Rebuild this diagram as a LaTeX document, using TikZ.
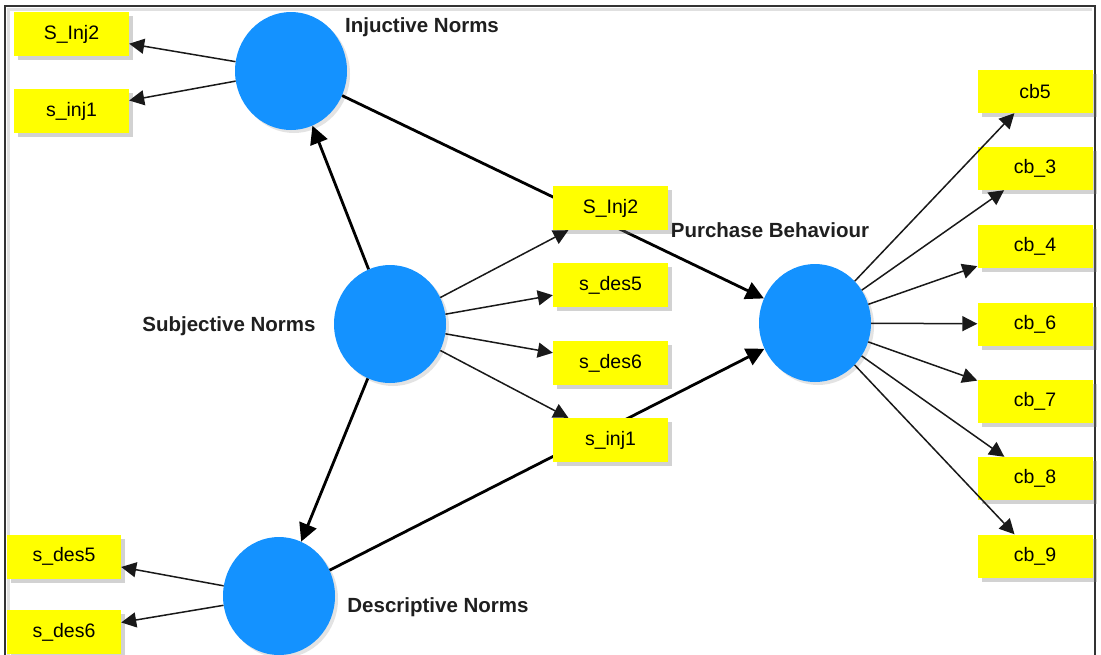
\documentclass[tikz,border=0pt]{standalone}
\usepackage{fontspec}
\setmainfont{Liberation Sans}
\usetikzlibrary{arrows.meta,shapes.geometric,shadows}
\definecolor{lvblue}{RGB}{20,146,255}
\definecolor{indyellow}{RGB}{255,255,0}
\begin{document}
\begin{tikzpicture}[x=1pt,y=-1pt,
  latent/.style={ellipse, fill=lvblue, minimum width=112pt, minimum height=118pt, inner sep=0pt,
    drop shadow={shadow xshift=3pt, shadow yshift=-3pt, opacity=0.22}},
  indbox/.style={rectangle, fill=indyellow, minimum width=115pt, minimum height=44pt, inner sep=0pt,
    font=\fontsize{19.5}{22}\selectfont,
    drop shadow={shadow xshift=4pt, shadow yshift=-4pt, opacity=0.35}},
  lvlabel/.style={font=\fontsize{20.5}{24}\selectfont\bfseries, text=black!88},
  thinarrow/.style={draw=black!90, line width=1.5pt, -{Triangle[length=15pt,width=15pt]}},
  thickarrow/.style={draw=black, line width=2.8pt, -{Triangle[length=18pt,width=18pt]}},
]
\useasboundingbox (0,0) rectangle (1101,654);
\clip (0,0) rectangle (1101,654);
\fill[white] (0,0) rectangle (1101,654);
% frame
\draw[black!12, line width=3pt] (8.5,700) -- (8.5,9.5) -- (1092,9.5);
\draw[black!80, line width=1.8pt] (5,6) rectangle (1095,700);

% latent variables
\node[latent] (inj) at (291,71) {};
\node[latent] (subj) at (390,324) {};
\node[latent] (pb) at (815,323) {};
\node[latent] (des) at (279,596) {};

% labels
\node[lvlabel] (injlab) at (422,27) {Injuctive Norms};
\node[lvlabel] (subjlab) at (229,326) {Subjective Norms};
\node[lvlabel] (pblab) at (770,230) {Purchase Behaviour};
\node[lvlabel] (deslab) at (438,607) {Descriptive Norms};

% paths to purchase behaviour (pass behind the middle boxes)
\draw[thickarrow] (inj) -- (pb);
\draw[thickarrow] (des) -- (pb);

% left indicators
\node[indbox] (linj2) at (71.5,34) {S\_Inj2};
\node[indbox] (linj1) at (71.5,111) {s\_inj1};
\node[indbox, minimum width=114pt] (ldes5) at (64,556.5) {s\_des5};
\node[indbox, minimum width=114pt] (ldes6) at (64,632) {s\_des6};

% middle indicators
\node[indbox] (minj2) at (610.5,208) {S\_Inj2};
\node[indbox] (mdes5) at (610.5,285) {s\_des5};
\node[indbox] (mdes6) at (610.5,363) {s\_des6};
\node[indbox] (minj1) at (610.5,440) {s\_inj1};

% right indicators
\node[indbox, minimum height=43pt] (cb5) at (1035,91.5) {cb5};
\node[indbox, minimum height=43pt] (cb3) at (1035,168.5) {cb\_3};
\node[indbox, minimum height=43pt] (cb4) at (1035,246) {cb\_4};
\node[indbox, minimum height=43pt] (cb6) at (1035,324) {cb\_6};
\node[indbox, minimum height=43pt] (cb7) at (1035,401) {cb\_7};
\node[indbox, minimum height=43pt] (cb8) at (1035,478.5) {cb\_8};
\node[indbox, minimum height=43pt] (cb9) at (1035,556) {cb\_9};

% structural arrows
\draw[thickarrow] (subj) -- (inj);
\draw[thickarrow] (subj) -- (des);

% measurement arrows
\draw[thinarrow] (inj) -- (linj2);
\draw[thinarrow] (inj) -- (linj1);
\draw[thinarrow] (des) -- (ldes5);
\draw[thinarrow] (des) -- (ldes6);
\draw[thinarrow] (subj) -- (minj2);
\draw[thinarrow] (subj) -- (mdes5);
\draw[thinarrow] (subj) -- (mdes6);
\draw[thinarrow] (subj) -- (minj1);
\foreach \b in {cb5,cb3,cb4,cb6,cb7,cb8,cb9}
  \draw[thinarrow] (pb) -- (\b);
\end{tikzpicture}
\end{document}
